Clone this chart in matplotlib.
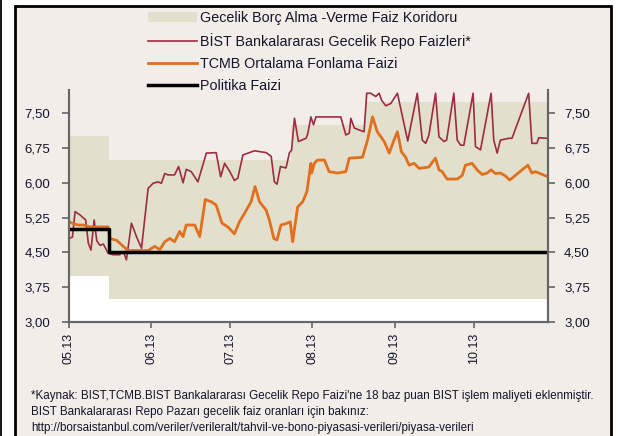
import pandas as pd
import matplotlib
matplotlib.use('Agg')
import matplotlib.pyplot as plt
from matplotlib.patches import Rectangle, Patch
from matplotlib.lines import Line2D

plt.rcParams['font.family'] = ['Liberation Sans', 'DejaVu Sans']

# Gün sayısı 01.05.2013'ten itibaren
baslangic = pd.Timestamp('2013-05-01')
bitis = pd.Timestamp('2013-10-29')

# BİST bankalararası gecelik repo faizleri
bist_gun = [0, 1.3, 2.3, 4.1, 6.3, 7.3, 8.3, 9.5, 10.5, 11.7, 13.0, 14.8, 16.7, 19.2,
            20.5, 21.7, 23.6, 25.5, 27.4, 29.9, 31.8, 33.6, 34.9, 36.2, 37.4, 39.9,
            41.4, 43.1, 44.3, 46.2, 48.7, 51.9, 55.6, 57.3, 58.8, 60.7, 62.5, 63.8,
            65.7, 70.1, 74.5, 76.4, 77.6, 78.6, 79.9, 82.0, 83.3, 84.1, 85.2, 86.7,
            89.6, 90.2, 91.4, 92.4, 93.3, 102.7, 104.6, 105.9, 106.5, 107.8, 109.6,
            111.5, 112.5, 114.0, 115.9, 117.2, 118.1, 119.7, 121.6, 124.1, 128.0,
            131.6, 133.5, 134.8, 136.0, 138.5, 139.8, 141.7, 142.7, 145.4, 146.7,
            148.0, 149.2, 152.7, 153.6, 155.5, 159.5, 160.5, 161.8, 163.0, 166.2,
            167.4, 173.7, 174.9, 176.8, 177.5, 180.6]
bist_faiz = [4.80, 4.83, 5.38, 5.31, 5.20, 4.70, 4.55, 5.20, 4.75, 4.65, 4.68, 4.48, 4.45, 4.45,
             4.52, 4.34, 5.13, 4.84, 4.59, 5.88, 5.99, 6.02, 5.99, 6.20, 6.17, 6.17,
             6.35, 6.00, 6.29, 6.24, 6.02, 6.64, 6.65, 6.13, 6.42, 6.25, 6.05, 6.10,
             6.60, 6.69, 6.65, 6.57, 6.02, 5.97, 6.35, 6.32, 6.65, 6.70, 7.39, 6.89,
             6.96, 7.05, 7.42, 7.25, 7.42, 7.42, 7.03, 7.07, 7.39, 7.18, 7.14,
             7.10, 7.93, 7.93, 7.86, 7.93, 7.78, 7.66, 7.71, 7.93, 6.90,
             7.93, 6.92, 6.85, 7.03, 7.93, 6.99, 6.89, 6.92, 7.93, 6.92,
             6.81, 6.81, 7.93, 6.78, 6.71, 7.93, 6.92, 6.64, 6.92, 6.96,
             6.96, 7.93, 6.85, 6.85, 6.97, 6.96]

# TCMB ortalama fonlama faizi
tcmb_gun = [0, 1.6, 3.5, 5.4, 7.9, 11.7, 14.8, 15.4, 18.0, 20.5, 22.3, 26.1, 29.9, 32.4,
            34.3, 36.2, 38.1, 39.9, 41.8, 43.1, 44.3, 47.5, 49.4, 51.5, 53.8, 55.6,
            57.8, 60.0, 62.5, 64.4, 66.3, 68.8, 70.3, 72.0, 74.5, 75.7, 77.4, 78.6,
            80.1, 82.0, 83.6, 84.5, 86.4, 88.3, 89.9, 91.4, 91.7, 92.7, 93.9, 96.5,
            98.3, 101.5, 104.6, 105.9, 110.9, 112.8, 114.7, 116.5, 119.1, 121.0, 122.8,
            124.1, 125.6, 127.2, 128.5, 130.4, 132.3, 136.0, 137.9, 138.5, 139.8,
            141.0, 142.9, 146.7, 148.6, 149.8, 152.3, 154.2, 156.1, 158.0, 159.5,
            161.1, 163.0, 164.9, 166.5, 168.7, 171.2, 173.4, 174.9, 176.2, 177.5, 180.6]
tcmb_faiz = [5.16, 5.12, 5.09, 5.09, 5.05, 5.05, 5.05, 4.80, 4.76, 4.63, 4.54, 4.54, 4.54, 4.63,
             4.56, 4.73, 4.80, 4.73, 4.95, 4.84, 5.09, 5.09, 4.84, 5.64, 5.59, 5.52,
             5.13, 5.05, 4.90, 5.16, 5.34, 5.59, 5.92, 5.59, 5.41, 5.20, 4.80, 4.77,
             5.09, 5.12, 5.16, 4.73, 5.48, 5.59, 5.81, 6.42, 6.21, 6.42, 6.49, 6.49,
             6.24, 6.21, 6.24, 6.53, 6.55, 6.92, 7.42, 7.10, 6.89, 6.64, 6.92,
             7.10, 6.67, 6.55, 6.38, 6.42, 6.31, 6.34, 6.49, 6.53, 6.28,
             6.24, 6.08, 6.08, 6.16, 6.38, 6.42, 6.28, 6.18, 6.21, 6.28,
             6.20, 6.21, 6.15, 6.06, 6.16, 6.28, 6.38, 6.21, 6.24, 6.21, 6.14]

# Faiz koridoru ve politika faizi
koridor_tarih = ['2013-05-01', '2013-05-16', '2013-07-24', '2013-08-21', '2013-10-29']
koridor_alt = [4.00, 3.50, 3.50, 3.50, 3.50]
koridor_ust = [7.00, 6.50, 7.25, 7.75, 7.75]
politika_tarih = ['2013-05-01', '2013-05-16', '2013-10-29']
politika_faiz = [5.00, 4.50, 4.50]

ay_tarih = ['2013-05-01', '2013-06-01', '2013-07-01', '2013-08-01', '2013-09-01', '2013-10-01']
ay_etiket = ['05.13', '06.13', '07.13', '08.13', '09.13', '10.13']
y_tikler = [3.00, 3.75, 4.50, 5.25, 6.00, 6.75, 7.50]

etiketler = ['Gecelik Borç Alma -Verme Faiz Koridoru',
             'BİST Bankalararası Gecelik Repo Faizleri*',
             'TCMB Ortalama Fonlama Faizi',
             'Politika Faizi']

dipnot = ["*Kaynak: BIST,TCMB.BIST Bankalararası Gecelik Repo Faizi'ne 18 baz puan BIST işlem maliyeti eklenmiştir.",
          'BIST Bankalararası Repo Pazarı gecelik faiz oranları için bakınız:',
          'http://borsaistanbul.com/veriler/verileralt/tahvil-ve-bono-piyasasi-verileri/piyasa-verileri']

ARKA = '#F2EDE9'
KORIDOR = '#E2DFCC'
KIRMIZI = '#9E2B40'
TURUNCU = '#E0701E'
YAZI = '#15152a'

bist_x = baslangic + pd.to_timedelta(bist_gun, unit='D')
tcmb_x = baslangic + pd.to_timedelta(tcmb_gun, unit='D')
kor_x = pd.to_datetime(koridor_tarih)
pol_x = pd.to_datetime(politika_tarih)

W, H = 618, 436
fig = plt.figure(figsize=(W / 100, H / 100), dpi=100)
fig.patch.set_facecolor('white')

# cerceve
fig.add_artist(Rectangle((0, 0), 2 / W, 1, transform=fig.transFigure,
                         facecolor='#1c1c1c', edgecolor='none', zorder=-10))
fig.add_artist(Rectangle((15 / W, -0.05), 596 / W, 1.05 - 6 / H, transform=fig.transFigure,
                         facecolor=ARKA, edgecolor='black', lw=2, zorder=-10))

ax = fig.add_axes([69 / W, 1 - 322 / H, (548 - 69) / W, (322 - 90) / H])
ax.set_facecolor(ARKA)
ax.patch.set_alpha(0)

ax.fill_between(kor_x, 3, koridor_alt, step='post', color='white', lw=0)
ax.fill_between(kor_x, koridor_alt, koridor_ust, step='post', color=KORIDOR, lw=0)
ax.plot(bist_x, bist_faiz, color=KIRMIZI, lw=1.2)
ax.plot(tcmb_x, tcmb_faiz, color=TURUNCU, lw=2)
ax.step(pol_x, politika_faiz, where='post', color='black', lw=2.5)

ax.set_xlim(baslangic, bitis)
ax.set_ylim(3, 8)
ax.set_xticks(pd.to_datetime(ay_tarih))
ax.set_xticklabels(ay_etiket, rotation=90, fontsize=9, color=YAZI)
ax.set_yticks(y_tikler)
ax.set_yticklabels([f'{v:.2f}'.replace('.', ',') for v in y_tikler], fontsize=9.5, color=YAZI)
ax.tick_params(axis='x', length=4, width=1.2, color='#666666', pad=4)
ax.tick_params(axis='y', length=5, width=1.2, color='#666666', pad=8.5)

ax2 = ax.twinx()
ax2.set_ylim(3, 8)
ax2.set_yticks(y_tikler)
ax2.set_yticklabels([f'{v:.2f}'.replace('.', ',') for v in y_tikler], fontsize=9.5, color=YAZI)
ax2.tick_params(axis='y', length=5, width=1.2, color='#666666', pad=6.5)

for a in (ax, ax2):
    a.spines['top'].set_visible(False)
    for s in ('left', 'right', 'bottom'):
        a.spines[s].set_color('#666666')
        a.spines[s].set_linewidth(1.5)

tutamaclar = [Patch(facecolor=KORIDOR, edgecolor='none'),
              Line2D([], [], color=KIRMIZI, lw=1.2),
              Line2D([], [], color=TURUNCU, lw=2),
              Line2D([], [], color='black', lw=2.5)]
leg = fig.legend(tutamaclar, etiketler, loc='upper left', bbox_to_anchor=(148 / W, 1 - 11 / H),
                 frameon=False, fontsize=10.3, handlelength=3.45, handleheight=0.7,
                 handletextpad=0.2, labelspacing=0.57, borderpad=0, borderaxespad=0)
for t in leg.get_texts():
    t.set_color(YAZI)

for i, satir in enumerate(dipnot):
    fig.text(31 / W, 1 - (396 + i * 16) / H, satir, fontsize=8.4, color=YAZI, va='center')

fig.savefig('out.png', dpi=100)
